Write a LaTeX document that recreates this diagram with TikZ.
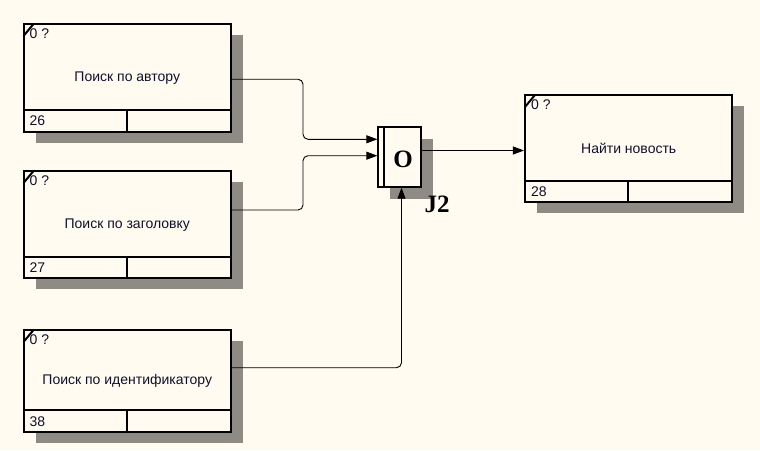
\documentclass[tikz,border=0pt]{standalone}
\usepackage{fontspec}
\setmainfont{Liberation Sans}
\newfontfamily\jfont{Liberation Serif}
\usetikzlibrary{arrows.meta,shadows}
\definecolor{bg}{HTML}{FFFBF0}
\definecolor{shade}{HTML}{8D8B84}
\definecolor{txt}{HTML}{10102A}
\tikzset{
  actbox/.style={draw,line width=2pt,fill=bg,minimum width=207.5pt,inner sep=0pt,
    text=txt,font=\fontsize{14}{16}\selectfont,
    drop shadow={shadow xshift=12pt,shadow yshift=-11pt,fill=shade,opacity=1}},
  boxline/.style={line width=2pt},
  lbl/.style={inner sep=0pt,text=txt,font=\fontsize{14}{16}\selectfont},
  jbox/.style={draw,line width=2pt,fill=bg,minimum width=42.7pt,minimum height=59.4pt,inner sep=0pt,
    drop shadow={shadow xshift=12pt,shadow yshift=-12pt,fill=shade,opacity=1}},
  jtext/.style={inner sep=0pt,font=\jfont\bfseries\fontsize{25}{28}\selectfont},
  conn/.style={line width=0.9pt,rounded corners=5pt,-{Triangle[length=11pt,width=8pt]}},
  plain/.style={line width=0.9pt}
}
\newcommand\idefbox[6]{%
  \node[actbox,minimum height=#4pt] (#1) at (#2,#3) {#5};
  \draw[boxline] ([yshift=22.7pt]#1.south west) -- ([yshift=22.7pt]#1.south east);
  \draw[boxline] ([xshift=104.5pt]#1.south west) -- ([xshift=104.5pt,yshift=22.7pt]#1.south west);
  \draw[boxline] ([xshift=1pt,yshift=-13pt]#1.north west) -- ([xshift=11pt,yshift=-1pt]#1.north west);
  \node[lbl,anchor=west] (#1-c) at ([xshift=7pt,yshift=-11pt]#1.north west) {0 ?};
  \node[lbl,anchor=west] (#1-n) at ([xshift=7pt,yshift=11.4pt]#1.south west) {#6};
}
\begin{document}
\begin{tikzpicture}[x=1pt,y=-1pt]
\fill[bg] (0,0) rectangle (760,450);
\useasboundingbox (0,0) rectangle (760,450);

\idefbox{b1}{127.25}{77.75}{107.5}{Поиск по автору}{26}
\idefbox{b2}{127.25}{224.65}{107.3}{Поиск по заголовку}{27}
\idefbox{b3}{127.25}{380.85}{101.7}{Поиск по идентификатору}{38}
\idefbox{b4}{628.7}{148.65}{107.3}{Найти новость}{28}

\node[jbox] (j) at (399.7,157) {};
\draw[boxline] ([xshift=6.4pt]j.north west) -- ([xshift=6.4pt]j.south west);
\node[jtext] (jo) at (403,159) {O};
\node[jtext] (jl) at (437,204.5) {J2};

\draw[conn] ([yshift=-1.5pt]b1.east) -- ++(71,0) |- ([yshift=17.7pt]j.west);
\draw[conn] ([yshift=14.65pt]b2.east) -- ++(71,0) |- ([yshift=1.3pt]j.west);
\draw[conn] ([yshift=13.15pt]b3.east) -| ([xshift=1.8pt]j.south);
\draw[conn] ([yshift=6.5pt]j.east) -- ([yshift=-1.85pt]b4.west);
\end{tikzpicture}
\end{document}
